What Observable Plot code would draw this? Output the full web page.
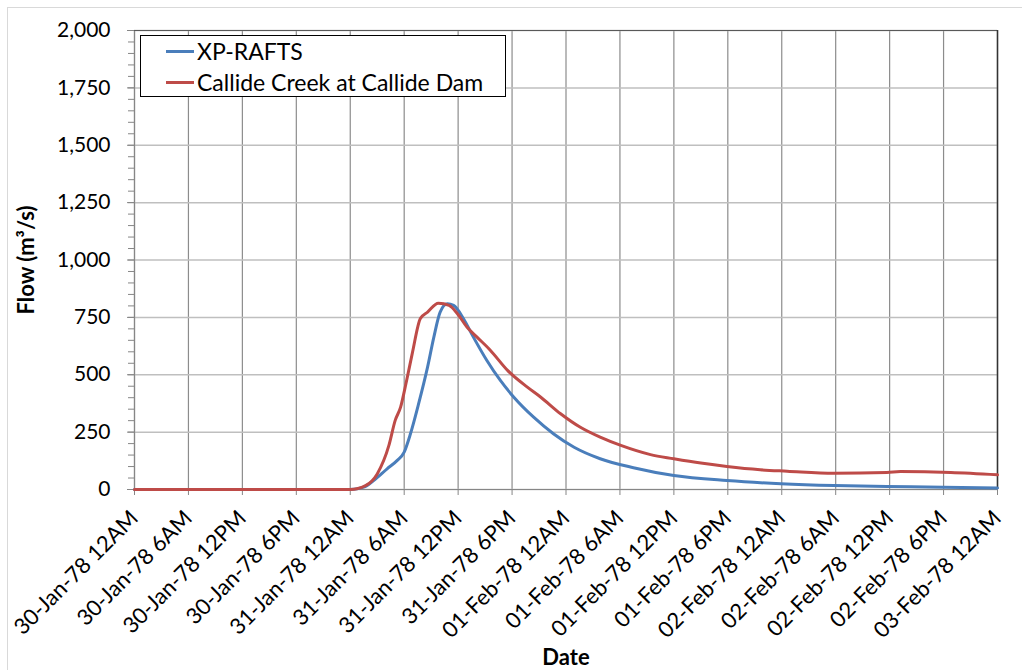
<!DOCTYPE html>
<html>
<head>
<meta charset="utf-8">
<script src="https://cdn.jsdelivr.net/npm/d3@7"></script>
<script src="https://cdn.jsdelivr.net/npm/@observablehq/plot@0.6"></script>
<style>
  body { margin: 0; background: #fff; font-family: Lato, "Open Sans", sans-serif; }
  #wrap { position: relative; width: 1022px; height: 670px; overflow: hidden; }
  #outer { position: absolute; left: 7px; top: 7px; width: 1030px; height: 680px; border: 1px solid #d9d9d9; box-sizing: border-box; }
  #chart { position: absolute; left: 0; top: 0; }
  #legend { position: absolute; left: 140px; top: 35px; width: 366px; height: 62px; border: 1.5px solid #000; background: #fff; box-sizing: border-box; font-size: 23px; color: #000; }
  .item { position: absolute; left: 25px; display: flex; align-items: center; }
  .swatch { width: 28px; height: 3px; margin-right: 3px; }
</style>
</head>
<body>
<div id="wrap">
  <div id="outer"></div>
  <div id="chart"></div>
  <div id="legend"></div>
</div>
<script>
// Series names and colours
const seriesNames = ["XP-RAFTS", "Callide Creek at Callide Dam"];
const seriesColors = ["#4a7ebb", "#be4b48"];

// Hours since 30-Jan-78 12AM
const xpHours = [0, 24, 25.5, 26.6, 28.1, 29.2, 30.0, 30.7, 31.6, 32.6, 33.3, 34.0, 34.8, 35.5, 36.6, 37.7, 39.2, 40.7, 42.2, 44.4, 46.6, 48.9, 51.8, 55.5, 60.0, 65.9, 71.9, 77.8, 83.7, 90.0, 96];
const xpFlow  = [0, 0, 10, 39, 90, 126, 163, 243, 373, 533, 664, 773, 809, 802, 744, 664, 562, 475, 402, 315, 243, 184, 134, 95, 61, 39, 25, 17, 13, 10, 7];

const obsHours = [0, 24, 25.7, 27.0, 28.3, 29.0, 29.6, 30.2, 30.9, 31.8, 32.6, 33.8, 35.0, 35.9, 37.0, 38.1, 39.6, 41.5, 43.7, 45.2, 47.4, 49.6, 51.8, 54.1, 57.4, 60.0, 63.0, 65.9, 69.6, 72.6, 77.8, 83.7, 85.2, 90.8, 96];
const obsFlow  = [0, 0, 17, 68, 192, 301, 359, 462, 593, 745, 773, 812, 802, 767, 707, 664, 606, 519, 446, 402, 330, 271, 228, 192, 152, 134, 115, 100, 86, 80, 71, 74, 78, 74, 64];

// Axis ticks
const xTickHours = d3.range(0, 97, 6);
const yTicks = [0, 250, 500, 750, 1000, 1250, 1500, 1750, 2000];
const yMinorTicks = d3.range(0, 2001, 50);

const start = Date.UTC(1978, 0, 30, 0, 0);
const toDate = h => new Date(start + h * 3600 * 1000);

const data = [
  ...xpHours.map((h, i) => ({date: toDate(h), flow: xpFlow[i], series: seriesNames[0]})),
  ...obsHours.map((h, i) => ({date: toDate(h), flow: obsFlow[i], series: seriesNames[1]}))
];
const xTicks = xTickHours.map(toDate);
const months = ["Jan","Feb","Mar","Apr","May","Jun","Jul","Aug","Sep","Oct","Nov","Dec"];
const fmt = d => {
  const dd = String(d.getUTCDate()).padStart(2, "0");
  const h = d.getUTCHours();
  const hr = h === 0 ? "12AM" : h < 12 ? h + "AM" : h === 12 ? "12PM" : (h - 12) + "PM";
  return `${dd}-${months[d.getUTCMonth()]}-${String(d.getUTCFullYear()).slice(2)} ${hr}`;
};

const chart = Plot.plot({
  width: 1022,
  height: 670,
  marginLeft: 134,
  marginTop: 30,
  marginRight: 25,
  marginBottom: 181,
  style: {fontFamily: "Lato, 'Open Sans', sans-serif", fontSize: "20px", color: "#000", background: "transparent"},
  x: {type: "utc", domain: [toDate(0), toDate(96)]},
  y: {domain: [0, 2000]},
  color: {domain: seriesNames, range: seriesColors},
  marks: [
    Plot.gridX(xTicks, {stroke: "#8c8c8c", strokeOpacity: 1, strokeWidth: 1.2}),
    Plot.gridY(yTicks, {stroke: "#bfbfbf", strokeOpacity: 1, strokeWidth: 1.5}),
    Plot.axisY(yMinorTicks, {tickSize: 6, tickFormat: () => "", label: null, stroke: "#868686"}),
    Plot.axisY(yTicks, {tickSize: 7, tickPadding: 17, tickFormat: d3.format(","), label: null, stroke: "#868686", fill: "#000", fontSize: 21}),
    Plot.axisX(xTicks, {tickSize: 6, tickRotate: -45, tickPadding: 19, tickFormat: fmt, label: null, stroke: "#868686", fill: "#000", fontSize: 22}),
    Plot.ruleX([toDate(0)], {stroke: "#868686", strokeWidth: 1.2}),
    Plot.ruleY([2000], {stroke: "#595959", strokeWidth: 1.2}),
    Plot.ruleX([toDate(96)], {stroke: "#333", strokeWidth: 1.5}),
    Plot.ruleY([0], {stroke: "#868686", strokeWidth: 1.2}),
    Plot.line(data, {x: "date", y: "flow", stroke: "series", z: "series", strokeWidth: 3, curve: "monotone-x"}),
    Plot.text(["Flow (m³/s)"], {frameAnchor: "left", dx: -108, rotate: -90, textAnchor: "middle", lineAnchor: "middle", fontWeight: "bold", fontSize: 22}),
    Plot.text(["Date"], {frameAnchor: "bottom", dy: 168, lineAnchor: "middle", textAnchor: "middle", fontWeight: "bold", fontSize: 22})
  ]
});
document.getElementById("chart").appendChild(chart);

const legend = document.getElementById("legend");
seriesNames.forEach((name, i) => {
  const item = document.createElement("div");
  item.className = "item";
  item.style.top = (i === 0 ? 1 : 32) + "px";
  const sw = document.createElement("span");
  sw.className = "swatch";
  sw.style.background = seriesColors[i];
  const t = document.createElement("span");
  t.textContent = name;
  item.appendChild(sw);
  item.appendChild(t);
  legend.appendChild(item);
});
</script>
</body>
</html>
